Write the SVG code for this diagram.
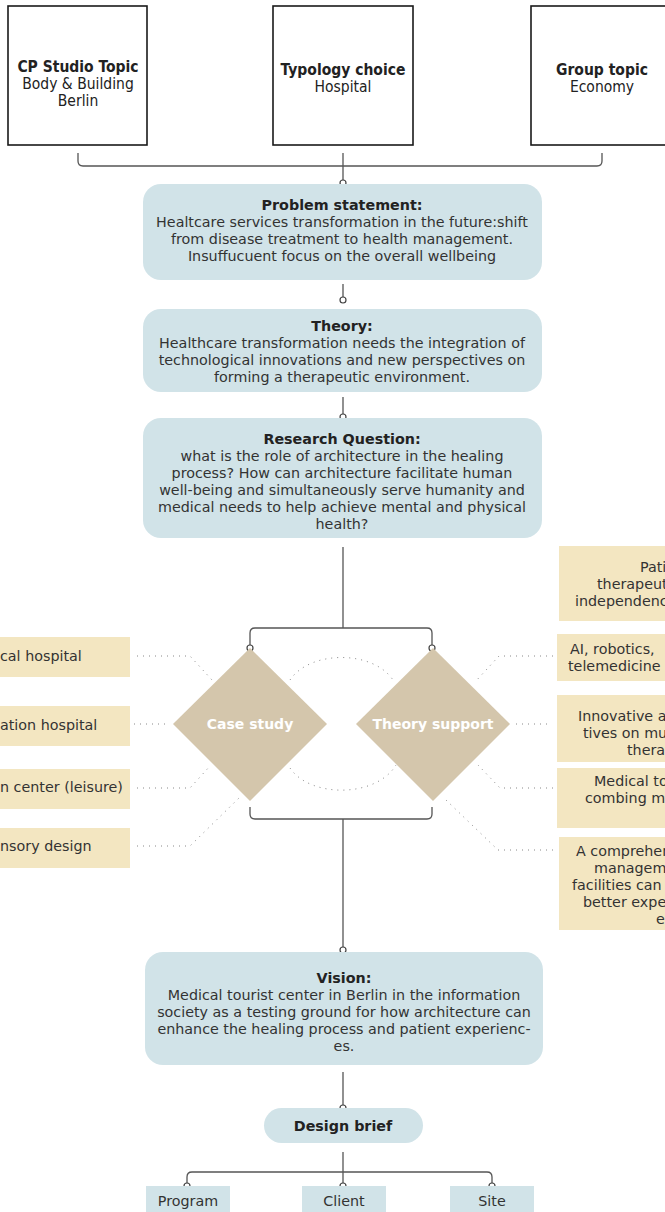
<svg xmlns="http://www.w3.org/2000/svg" width="665" height="1212" viewBox="0 0 665 1212">
<style>
.top{fill:#fff;stroke:#1a1a1a;stroke-width:1.6}
.blue{fill:#d1e3e8}
.beige{fill:#f3e6c1}
.dia{fill:#d4c6ac}
.t{font-family:"DejaVu Sans",Verdana,sans-serif;font-size:14.3px;fill:#333;text-anchor:middle}
.tl{font-family:"DejaVu Sans",Verdana,sans-serif;font-size:14.3px;fill:#333}
.b{font-weight:bold;fill:#222}
.w{font-family:"DejaVu Sans",Verdana,sans-serif;font-size:14px;font-weight:bold;fill:#fff;text-anchor:middle}
.c{font-family:"DejaVu Sans Condensed","DejaVu Sans",sans-serif;font-size:15.5px;fill:#222;text-anchor:middle}
.ln{fill:none;stroke:#555;stroke-width:1.3}
.dot{fill:none;stroke:#888;stroke-width:1;stroke-dasharray:1 5}
.pt{fill:#fff;stroke:#444;stroke-width:1.2}
</style>
<g id="connectors">
<path class="ln" d="M78,153 V161 Q78,166 83,166 H597 Q602,166 602,161 V153"/>
<path class="ln" d="M343,153 V180"/>
<circle class="pt" cx="343" cy="183" r="3"/>
<path class="ln" d="M343,284 V297"/>
<circle class="pt" cx="343" cy="300" r="3"/>
<path class="ln" d="M343,397 V414"/>
<circle class="pt" cx="343" cy="417" r="3"/>
<path class="ln" d="M343,547 V628"/>
<path class="ln" d="M250,645 V633 Q250,628 255,628 H427 Q432,628 432,633 V645"/>
<circle class="pt" cx="250" cy="648" r="3"/>
<circle class="pt" cx="432" cy="648" r="3"/>
<path class="ln" d="M250,807 V814 Q250,819 255,819 H427 Q432,819 432,814 V807"/>
<path class="ln" d="M343,819 V947"/>
<circle class="pt" cx="343" cy="950" r="3"/>
<path class="ln" d="M343,1072 V1105"/>
<circle class="pt" cx="343" cy="1108" r="3"/>
<path class="ln" d="M343,1152 V1183"/>
<path class="ln" d="M187,1183 V1177 Q187,1172 192,1172 H487 Q492,1172 492,1177 V1183"/>
<circle class="pt" cx="187" cy="1186" r="3"/>
<circle class="pt" cx="343" cy="1186" r="3"/>
<circle class="pt" cx="492" cy="1186" r="3"/>
<path class="dot" d="M290,680 C310,650 373,650 393,680"/>
<path class="dot" d="M290,768 C310,798 376,798 396,765"/>
<path class="dot" d="M137,656 H190 L212,680"/>
<path class="dot" d="M134,724 H168"/>
<path class="dot" d="M137,788 H190 L210,766"/>
<path class="dot" d="M137,846 H190 L240,797"/>
<path class="dot" d="M553,656 H499 L475,682"/>
<path class="dot" d="M547,724 H514"/>
<path class="dot" d="M553,788 H500 L478,765"/>
<path class="dot" d="M553,850 H498 L446,800"/>
</g>
<g id="n-cpstudio">
<rect class="top" x="8" y="6" width="139" height="139"/>
<text class="c" x="78" y="72"><tspan font-weight="bold">CP Studio Topic</tspan><tspan x="78" dy="17">Body &amp; Building</tspan><tspan x="78" dy="17">Berlin</tspan></text>
</g>
<g id="n-typology">
<rect class="top" x="273" y="6" width="140" height="139"/>
<text class="c" x="343" y="75"><tspan font-weight="bold">Typology choice</tspan><tspan x="343" dy="17">Hospital</tspan></text>
</g>
<g id="n-group">
<rect class="top" x="531" y="6" width="140" height="139"/>
<text class="c" x="602" y="75"><tspan font-weight="bold">Group topic</tspan><tspan x="602" dy="17">Economy</tspan></text>
</g>
<g id="n-problem">
<rect class="blue" x="143" y="184" width="399" height="96" rx="18"/>
<text class="t" x="342" y="210"><tspan class="b">Problem statement:</tspan><tspan x="342" dy="17">Healtcare services transformation in the future:shift</tspan><tspan x="342" dy="17">from disease treatment to health management.</tspan><tspan x="342" dy="17">Insuffucuent focus on the overall wellbeing</tspan></text>
</g>
<g id="n-theory">
<rect class="blue" x="143" y="309" width="399" height="83" rx="18"/>
<text class="t" x="342" y="331"><tspan class="b">Theory:</tspan><tspan x="342" dy="17">Healthcare transformation needs the integration of</tspan><tspan x="342" dy="17">technological innovations and new perspectives on</tspan><tspan x="342" dy="17">forming a therapeutic environment.</tspan></text>
</g>
<g id="n-research">
<rect class="blue" x="143" y="418" width="399" height="120" rx="18"/>
<text class="t" x="342" y="444"><tspan class="b">Research Question:</tspan><tspan x="342" dy="17">what is the role of architecture in the healing</tspan><tspan x="342" dy="17">process? How can architecture facilitate human</tspan><tspan x="342" dy="17">well-being and simultaneously serve humanity and</tspan><tspan x="342" dy="17">medical needs to help achieve mental and physical</tspan><tspan x="342" dy="17">health?</tspan></text>
</g>
<g id="n-casestudy">
<polygon class="dia" points="250,648 327,724 250,801 173,724"/>
<text class="w" x="250" y="729">Case study</text>
</g>
<g id="n-theorysupport">
<polygon class="dia" points="433,648 510,724 433,801 356,724"/>
<text class="w" x="433" y="729">Theory support</text>
</g>
<g id="n-l1">
<rect class="beige" x="-10" y="637" width="140" height="40"/>
<text class="tl" x="0" y="661">cal hospital</text>
</g>
<g id="n-l2">
<rect class="beige" x="-10" y="706" width="140" height="40"/>
<text class="tl" x="0" y="730">ation hospital</text>
</g>
<g id="n-l3">
<rect class="beige" x="-10" y="769" width="140" height="40"/>
<text class="tl" x="0" y="792">n center (leisure)</text>
</g>
<g id="n-l4">
<rect class="beige" x="-10" y="828" width="140" height="40"/>
<text class="tl" x="0" y="851">nsory design</text>
</g>
<g id="n-r1">
<rect class="beige" x="559" y="546" width="120" height="75"/>
<text class="tl"><tspan x="640" y="572">Pati</tspan><tspan x="597" y="589">therapeut</tspan><tspan x="575" y="606">independenc</tspan></text>
</g>
<g id="n-r2">
<rect class="beige" x="557" y="634" width="120" height="47"/>
<text class="tl"><tspan x="570" y="654">AI, robotics,</tspan><tspan x="568" y="671">telemedicine</tspan></text>
</g>
<g id="n-r3">
<rect class="beige" x="557" y="695" width="120" height="67"/>
<text class="tl"><tspan x="578" y="721">Innovative a</tspan><tspan x="583" y="738">tives on mu</tspan><tspan x="627" y="755">thera</tspan></text>
</g>
<g id="n-r4">
<rect class="beige" x="557" y="768" width="120" height="60"/>
<text class="tl"><tspan x="594" y="786">Medical to</tspan><tspan x="585" y="803">combing me</tspan></text>
</g>
<g id="n-r5">
<rect class="beige" x="559" y="837" width="120" height="93"/>
<text class="tl"><tspan x="576" y="856">A comprehen</tspan><tspan x="594" y="873">managem</tspan><tspan x="572" y="890">facilities can </tspan><tspan x="583" y="907">better expe</tspan><tspan x="656" y="924">e</tspan></text>
</g>
<g id="n-vision">
<rect class="blue" x="145" y="952" width="398" height="113" rx="18"/>
<text class="t" x="344" y="983"><tspan class="b">Vision:</tspan><tspan x="344" dy="17">Medical tourist center in Berlin in the information</tspan><tspan x="344" dy="17">society as a testing ground for how architecture can</tspan><tspan x="344" dy="17">enhance the healing process and patient experienc-</tspan><tspan x="344" dy="17">es.</tspan></text>
</g>
<g id="n-designbrief">
<rect class="blue" x="264" y="1108" width="159" height="35" rx="17.5"/>
<text class="t b" x="343" y="1131">Design brief</text>
</g>
<g id="n-program">
<rect class="blue" x="146" y="1186" width="84" height="30"/>
<text class="t" x="188" y="1206">Program</text>
</g>
<g id="n-client">
<rect class="blue" x="302" y="1186" width="84" height="30"/>
<text class="t" x="344" y="1206">Client</text>
</g>
<g id="n-site">
<rect class="blue" x="450" y="1186" width="84" height="30"/>
<text class="t" x="492" y="1206">Site</text>
</g>
</svg>
